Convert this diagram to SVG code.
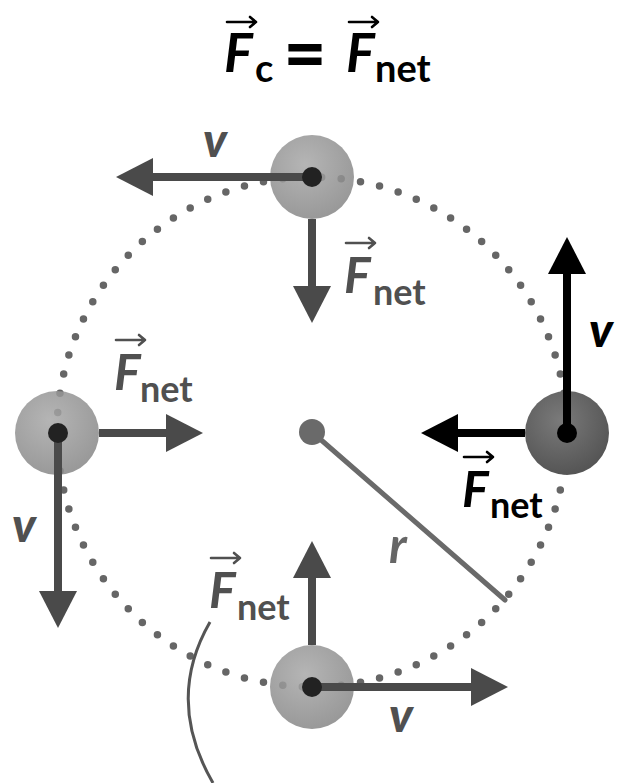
<svg xmlns="http://www.w3.org/2000/svg" xmlns:xlink="http://www.w3.org/1999/xlink" width="617" height="783" viewBox="0 0 617 783">
<style>
.F{font-family:Lato,"Open Sans","Liberation Sans",sans-serif;font-weight:700;font-style:italic;font-size:50px}
.sub{font-family:Lato,"Open Sans","Liberation Sans",sans-serif;font-weight:700;font-size:36px}
.v{font-family:Lato,"Open Sans","Liberation Sans",sans-serif;font-weight:900;font-style:italic;font-size:48px}
.gray{fill:#505050}
.blk{fill:#000}
.vec{fill:none;stroke-width:2.6;stroke-linecap:round;stroke-linejoin:round}
.arr-g{stroke:#4a4a4a;stroke-width:8;fill:none}
.arr-k{stroke:#000;stroke-width:8;fill:none}
.ball{fill:url(#gBall);opacity:0.85}
</style>
<defs>
<radialGradient id="gBall" cx="0.42" cy="0.35" r="0.65">
<stop offset="0" stop-color="#a8a8a8"/>
<stop offset="1" stop-color="#878787"/>
</radialGradient>
<radialGradient id="gDark" cx="0.42" cy="0.35" r="0.65">
<stop offset="0" stop-color="#7a7a7a"/>
<stop offset="1" stop-color="#555"/>
</radialGradient>
<marker id="mG" markerUnits="userSpaceOnUse" viewBox="0 0 38 38" refX="1" refY="19" markerWidth="38" markerHeight="38" orient="auto">
<path d="M0 0 L37 19 L0 38 Z" fill="#4a4a4a"/>
</marker>
<marker id="mK" markerUnits="userSpaceOnUse" viewBox="0 0 38 38" refX="1" refY="19" markerWidth="38" markerHeight="38" orient="auto">
<path d="M0 0 L37 19 L0 38 Z" fill="#000"/>
</marker>
<path id="vecArrow" class="vec" d="M0 0 H29 M23 -5 L29 0 L23 5"/>
</defs>

<g id="title">
<text class="F blk" x="224" y="72" style="font-size:54px">F</text>
<text class="sub blk" x="255" y="82" style="font-size:38px">c</text>
<text class="sub blk" x="305" y="80" text-anchor="middle" style="font-size:74px;font-weight:900">=</text>
<text class="F blk" x="346" y="72" style="font-size:54px">F</text>
<text class="sub blk" x="375" y="82" style="font-size:38px">net</text>
<use href="#vecArrow" x="227" y="22" stroke="#000"/>
<use href="#vecArrow" x="349" y="22" stroke="#000"/>
</g>

<g id="orbit">
<circle cx="312" cy="432" r="255" fill="none" stroke="#666" stroke-width="7.5" stroke-linecap="round" pathLength="82" stroke-dasharray="0 1"/>
</g>

<g id="center">
<line x1="312" y1="432" x2="505" y2="600" stroke="#6a6a6a" stroke-width="5" stroke-linecap="round"/>
<circle cx="312" cy="432" r="13" fill="#6a6a6a"/>
<text x="389" y="563" font-family="Lato,'Open Sans','Liberation Sans',sans-serif" font-weight="700" font-style="italic" font-size="50" fill="#666">r</text>
</g>

<g id="ball-top"><circle class="ball" cx="312" cy="177" r="42"/></g>
<g id="ball-left"><circle class="ball" cx="57" cy="433" r="42"/></g>
<g id="ball-bottom"><circle class="ball" cx="312" cy="687" r="42"/></g>
<g id="ball-right"><circle cx="567" cy="433" r="42" fill="url(#gDark)"/></g>

<g id="connectors">
<line class="arr-g" x1="312" y1="177" x2="152" y2="177" marker-end="url(#mG)"/>
<line class="arr-g" x1="312" y1="219" x2="312" y2="287" marker-end="url(#mG)"/>
<line class="arr-g" x1="99" y1="433" x2="167" y2="433" marker-end="url(#mG)"/>
<line class="arr-g" x1="58" y1="433" x2="58" y2="592" marker-end="url(#mG)"/>
<line class="arr-g" x1="312" y1="645" x2="312" y2="577" marker-end="url(#mG)"/>
<line class="arr-g" x1="312" y1="687" x2="472" y2="687" marker-end="url(#mG)"/>
<line class="arr-k" x1="567" y1="433" x2="567" y2="273" marker-end="url(#mK)"/>
<line class="arr-k" x1="525" y1="433" x2="457" y2="433" marker-end="url(#mK)"/>
<path d="M210 622 Q165 700 213 783" fill="none" stroke="#555" stroke-width="3"/>
</g>

<g id="pivots">
<circle cx="312" cy="177" r="10" fill="#222"/>
<circle cx="58" cy="433" r="10" fill="#222"/>
<circle cx="312" cy="687" r="10" fill="#222"/>
<circle cx="567" cy="433" r="10" fill="#000"/>
</g>

<g id="labels">
<text class="v gray" x="203" y="157">v</text>
<text class="v blk" x="589" y="347">v</text>
<text class="v gray" x="12" y="542">v</text>
<text class="v gray" x="389" y="732">v</text>

<text class="F gray" x="344" y="293">F</text>
<text class="sub gray" x="373" y="305">net</text>
<use href="#vecArrow" x="346" y="243" stroke="#505050"/>

<text class="F gray" x="114" y="390">F</text>
<text class="sub gray" x="140" y="402">net</text>
<use href="#vecArrow" x="116" y="340" stroke="#505050"/>

<text class="F gray" x="209" y="608">F</text>
<text class="sub gray" x="237" y="620">net</text>
<use href="#vecArrow" x="211" y="558" stroke="#505050"/>

<text class="F blk" x="462" y="507">F</text>
<text class="sub blk" x="490" y="518">net</text>
<use href="#vecArrow" x="464" y="457" stroke="#000"/>
</g>
</svg>
